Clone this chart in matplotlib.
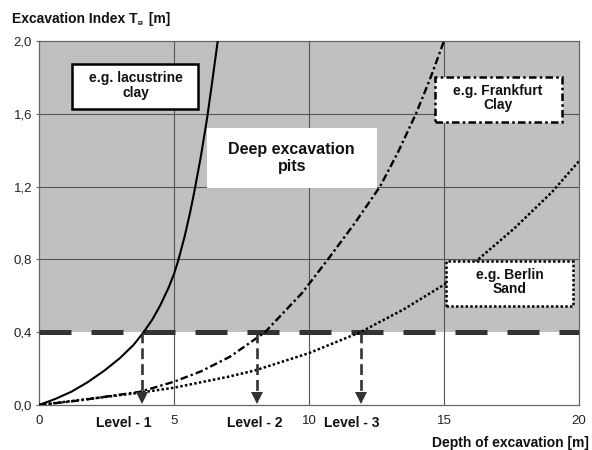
import matplotlib
matplotlib.use("Agg")
import matplotlib.pyplot as plt
from matplotlib.patches import Rectangle

# ---- data ----
x_lacustrine = [0, 0.6, 1.2, 1.8, 2.43, 3.0, 3.5, 3.85, 4.2, 4.5, 4.8, 5.0, 5.16, 5.4, 5.6, 5.75, 6.0, 6.22, 6.4, 6.62]
y_lacustrine = [0, 0.033, 0.073, 0.125, 0.19, 0.258, 0.33, 0.395, 0.47, 0.55, 0.645, 0.72, 0.795, 0.93, 1.06, 1.17, 1.37, 1.57, 1.76, 2.0]

x_frankfurt = [0, 1.5, 3.75, 5.0, 6.0, 7.07, 8.37, 9.74, 10.7, 11.7, 12.63, 13.3, 13.96, 14.48, 15.0]
y_frankfurt = [0, 0.025, 0.073, 0.128, 0.185, 0.265, 0.40, 0.615, 0.80, 1.00, 1.20, 1.39, 1.60, 1.79, 2.0]

x_berlin = [0, 2.0, 3.75, 5.0, 7.0, 8.0, 10.0, 11.9, 13.5, 15.1, 16.15, 17.6, 19.0, 20.0]
y_berlin = [0, 0.036, 0.068, 0.095, 0.155, 0.19, 0.285, 0.40, 0.525, 0.67, 0.785, 0.97, 1.17, 1.34]

threshold = 0.4
level_x = [3.82, 8.06, 11.93]
level_labels = ["Level - 1", "Level - 2", "Level - 3"]
level_label_x = [3.15, 8.0, 11.6]

x_ticks = [0, 5, 10, 15, 20]
x_tick_labels = ["0", "5", "10", "15", "20"]
y_ticks = [0.0, 0.4, 0.8, 1.2, 1.6, 2.0]
y_tick_labels = ["0,0", "0,4", "0,8", "1,2", "1,6", "2,0"]

plt.rcParams['font.family'] = ['Liberation Sans', 'DejaVu Sans']

fig = plt.figure(figsize=(5.92, 4.5), dpi=100)
ax = fig.add_axes([39/592, 1 - 405/450, 540/592, 364/450])
ax.set_xlim(0, 20)
ax.set_ylim(0, 2.0)

# background
ax.axhspan(threshold, 2.0, color='#c0c0c0', zorder=0, lw=0)

# grid
for gx in [5, 10, 15]:
    ax.axvline(gx, color='#555555', lw=0.8, zorder=1)
for gy in [0.8, 1.2, 1.6]:
    ax.axhline(gy, color='#555555', lw=0.8, zorder=1)
for s in ax.spines.values():
    s.set_color('#666666')
    s.set_linewidth(0.9)

ax.set_xticks(x_ticks)
ax.set_xticklabels(x_tick_labels)
ax.set_yticks(y_ticks)
ax.set_yticklabels(y_tick_labels)
ax.tick_params(labelsize=9.5, labelcolor='#222222')
ax.tick_params(axis='x', length=0, pad=7)
ax.tick_params(axis='y', length=2, width=0.8, color='#666666', pad=3)

# threshold dashed line
ax.plot([0, 20], [threshold, threshold], color='#333333', lw=3.6,
        dashes=(6.4, 4.0), solid_capstyle='butt', dash_capstyle='butt', zorder=3)

# curves
ax.plot(x_lacustrine, y_lacustrine, color='black', lw=1.5, zorder=4)
ax.plot(x_frankfurt, y_frankfurt, color='black', lw=1.7, dashes=(3.2, 1.3, 1.0, 1.3), zorder=4)
ax.plot(x_berlin, y_berlin, color='black', lw=1.8, dashes=(1.0, 0.9), zorder=4)

# level arrows
for lx in level_x:
    ax.plot([lx, lx], [threshold, 0.07], color='#333333', lw=1.9,
            dashes=(4.1, 1.9), dash_capstyle='butt', zorder=5)
    ax.plot([lx], [0.036], marker='v', markersize=8, color='#333333',
            markeredgewidth=0, zorder=5, clip_on=False)
for lx, lab in zip(level_label_x, level_labels):
    ax.text(lx, -0.099, lab, ha='center', va='center', fontsize=10,
            fontweight='bold', color='#111111', clip_on=False)

# boxes
def box(x0, x1, y0, y1, ls, lw):
    r = Rectangle((x0, y0), x1 - x0, y1 - y0, facecolor='white',
                  edgecolor='black' if ls is not None else 'none', lw=lw, zorder=6)
    if ls is not None:
        r.set_linestyle(ls)
    ax.add_patch(r)

box(1.22, 5.89, 1.626, 1.874, '-', 1.8)
box(6.21, 12.51, 1.19, 1.52, None, 0)
box(14.67, 19.37, 1.555, 1.80, (0, (3.0, 1.3, 1.0, 1.3)), 1.8)
box(15.07, 19.78, 0.544, 0.791, (0, (1.0, 0.9)), 1.8)

ax.text(3.58, 1.754, "e.g. lacustrine\nclay", ha='center', va='center',
        fontsize=10, fontweight='bold', linespacing=1.05, zorder=7, color='#111111')
ax.text(9.36, 1.357, "Deep excavation\npits", ha='center', va='center',
        fontsize=11.5, fontweight='bold', linespacing=1.1, zorder=7, color='#111111')
ax.text(17.0, 1.687, "e.g. Frankfurt\nClay", ha='center', va='center',
        fontsize=10, fontweight='bold', linespacing=1.05, zorder=7, color='#111111')
ax.text(17.44, 0.676, "e.g. Berlin\nSand", ha='center', va='center',
        fontsize=10, fontweight='bold', linespacing=1.05, zorder=7, color='#111111')

# axis labels
fig.text(589/592, 1 - 443/450, "Depth of excavation [m]", ha='right', va='center',
         fontsize=10, fontweight='bold', color='#111111')

t1 = fig.text(12/592, 1 - 23/450, "Excavation Index T", ha='left', va='baseline',
              fontsize=10, fontweight='bold', color='#111111')
fig.canvas.draw()
r = fig.canvas.get_renderer()
bb = t1.get_window_extent(r)
t2 = fig.text((bb.x1 + 0.5) / 592, (450 - 25) / 450, "EI", ha='left', va='baseline',
              fontsize=4.5, fontweight='bold', color='#111111')
fig.canvas.draw()
bb2 = t2.get_window_extent(r)
fig.text((bb2.x1 + 1) / 592, 1 - 23/450, " [m]", ha='left', va='baseline',
         fontsize=10, fontweight='bold', color='#111111')

fig.savefig("out.png", dpi=100)
